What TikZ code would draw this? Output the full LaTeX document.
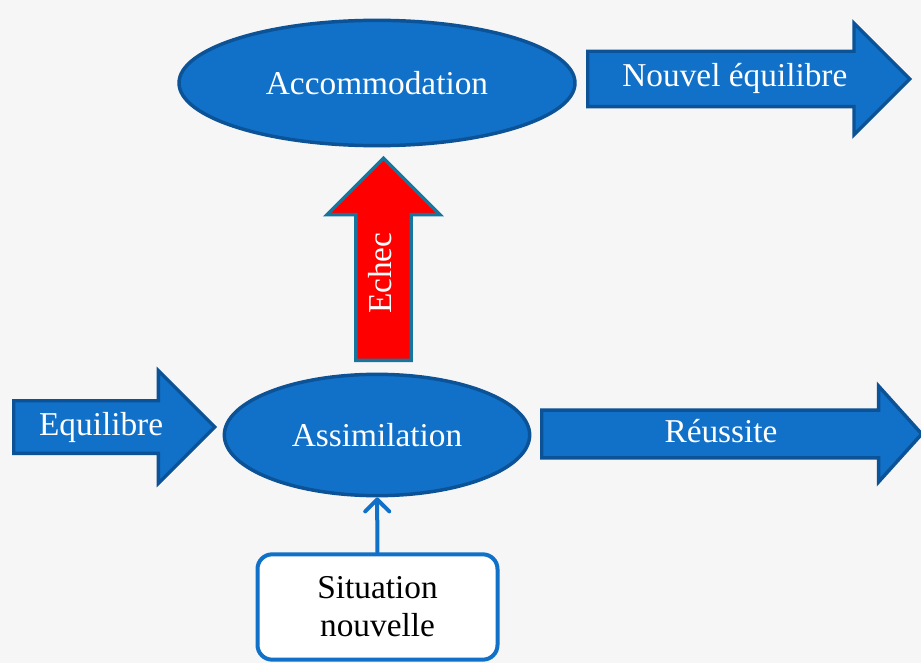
\documentclass[tikz,border=0pt]{standalone}
\usepackage{fontspec}
\setmainfont{Liberation Serif}
\usetikzlibrary{shapes.geometric,shapes.arrows,arrows.meta}
\definecolor{BoxBlue}{RGB}{17,112,200}
\definecolor{EdgeBlue}{RGB}{12,82,150}
\definecolor{EchecEdge}{RGB}{22,118,158}
\definecolor{Paper}{RGB}{246,246,246}

\begin{document}
\begin{tikzpicture}[x=0.75pt, y=-0.75pt, line width=2.6pt,
      every node/.append style={font=\fontsize{25}{28.5}\selectfont},
      phase/.style={ellipse, fill=BoxBlue, draw=EdgeBlue, text=white},
      flow/.style={single arrow, fill=BoxBlue, draw=EdgeBlue, text=white,
        text height=17pt, text depth=5pt, inner xsep=0pt,
        anchor=tail, single arrow head indent=0pt}]
  \fill[Paper] (0,0) rectangle (921,663);
  \useasboundingbox (0,0) rectangle (921,663);
  % the two stages
  \node (acc) [phase, minimum width=297pt, minimum height=94pt] at (377,83) {Accommodation};
  \node (assim) [phase, minimum width=229pt, minimum height=91pt] at (377,435) {Assimilation};
  % block arrows
  \node (equi) [flow, inner ysep=7.4pt, minimum height=150.75pt,
    single arrow head extend=22.5pt] at (12,427) {Equilibre};
  \node (reus) [flow, inner ysep=5.6pt, minimum height=285pt,
    single arrow head extend=18pt, single arrow tip angle=96] at (540,434) {Réussite};
  \node (nouv) [flow, inner ysep=8.5pt, minimum height=241.5pt,
    single arrow head extend=21pt] at (586,79) {Nouvel équilibre};
  \node (echec) [flow, rotate=90, fill=red, draw=EchecEdge, inner ysep=8.5pt,
    minimum height=151.5pt, single arrow head extend=21.5pt] at (383.5,362) {Echec};
  % the new situation
  \node (sit) [rectangle, rounded corners=11pt, draw=BoxBlue, fill=white, line width=3pt,
    align=center, minimum width=180pt, minimum height=79pt] at (377.5,607) {Situation\\nouvelle};
  \draw[-{Straight Barb[length=9pt,width=18pt,line width=0pt 1,round]}, BoxBlue,
    line width=3pt, line cap=round] (sit) -- (assim);
\end{tikzpicture}
\end{document}
